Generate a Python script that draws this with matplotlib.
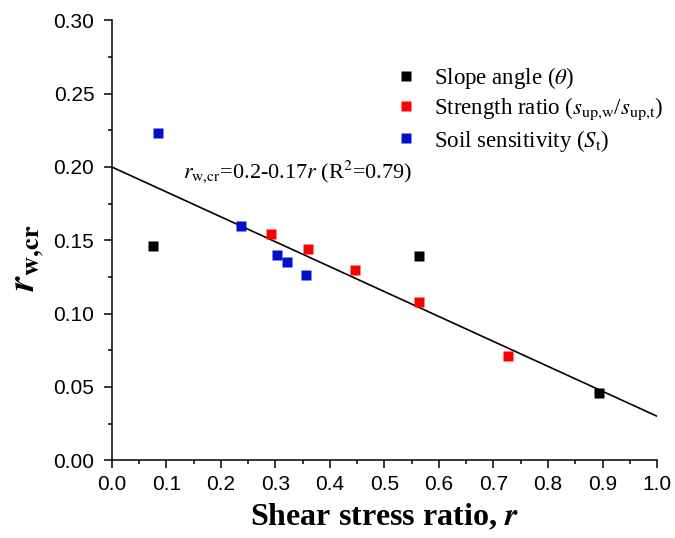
import matplotlib
matplotlib.use("Agg")
import matplotlib.pyplot as plt
import numpy as np
from matplotlib.ticker import MultipleLocator, FormatStrFormatter

plt.rcParams["mathtext.fontset"] = "stix"

# shear stress ratio r vs critical ratio r_w,cr for each parameter group
slope_r = [0.075, 0.564, 0.893]
slope_rw = [0.146, 0.139, 0.046]

strength_r = [0.292, 0.359, 0.446, 0.563, 0.726]
strength_rw = [0.154, 0.144, 0.130, 0.108, 0.071]

sens_r = [0.085, 0.237, 0.303, 0.322, 0.357]
sens_rw = [0.223, 0.160, 0.140, 0.135, 0.126]

# linear fit r_w,cr = a + b r
fit_a = 0.2
fit_b = -0.17

fig = plt.figure(figsize=(6.75, 5.38), dpi=100)
ax = fig.add_axes([0.1655, 0.1445, 0.808, 0.8178])

ms = 6.8
ax.plot(slope_r, slope_rw, "s", color="black", ms=ms, mec="none",
        label=r"Slope angle ($\mathit{\theta}$)")
ax.plot(strength_r, strength_rw, "s", color="#ff0000", ms=ms, mec="none",
        label=r"Strength ratio ($\mathit{s}_{\rm up{,}w}$/$\mathit{s}_{\rm up{,}t}$)")
ax.plot(sens_r, sens_rw, "s", color="#0010cc", ms=ms, mec="none",
        label=r"Soil sensitivity ($\mathit{S}_{\rm t}$)")

xf = np.array([0.0, 1.0])
ax.plot(xf, fit_a + fit_b * xf, color="black", lw=1.2, zorder=1)

ax.text(0.131, 0.193, r"$\mathit{r}_{\rm w{,}cr}$=0.2-0.17$\mathit{r}$ (R$^{2}$=0.79)",
        fontsize=16, family="Liberation Serif", va="baseline")

ax.set_xlim(0, 1.0)
ax.set_ylim(0, 0.30)
ax.xaxis.set_major_locator(MultipleLocator(0.1))
ax.xaxis.set_minor_locator(MultipleLocator(0.05))
ax.yaxis.set_major_locator(MultipleLocator(0.05))
ax.yaxis.set_minor_locator(MultipleLocator(0.025))
ax.xaxis.set_major_formatter(FormatStrFormatter("%.1f"))
ax.yaxis.set_major_formatter(FormatStrFormatter("%.2f"))

for side in ["top", "right"]:
    ax.spines[side].set_visible(False)
for side in ["left", "bottom"]:
    ax.spines[side].set_linewidth(1.1)
ax.tick_params(which="major", direction="out", length=5.5, width=1.1,
               labelsize=15)
ax.tick_params(which="minor", direction="out", length=2.7, width=1.1)
ax.tick_params(axis="x", which="major", pad=5)
ax.tick_params(axis="y", which="major", pad=7)
for lab in ax.get_xticklabels() + ax.get_yticklabels():
    lab.set_fontfamily("Liberation Sans")

ax.set_xlabel(r"Shear stress ratio, $\mathbfit{r}$", fontsize=23,
              family="Liberation Serif", fontweight="bold", labelpad=6)
ax.set_ylabel(r"$\mathbfit{r}_{\mathbf{w{,}cr}}$", fontsize=27,
              family="Liberation Serif")
ax.yaxis.set_label_coords(-0.12, 0.46)

leg = ax.legend(loc="upper left", bbox_to_anchor=(0.49, 0.935), frameon=False,
                prop={"family": "Liberation Serif", "size": 16.5},
                handletextpad=0.7, labelspacing=0.22, handlelength=1.0,
                borderpad=0.2)

fig.savefig("out.png", dpi=100)
